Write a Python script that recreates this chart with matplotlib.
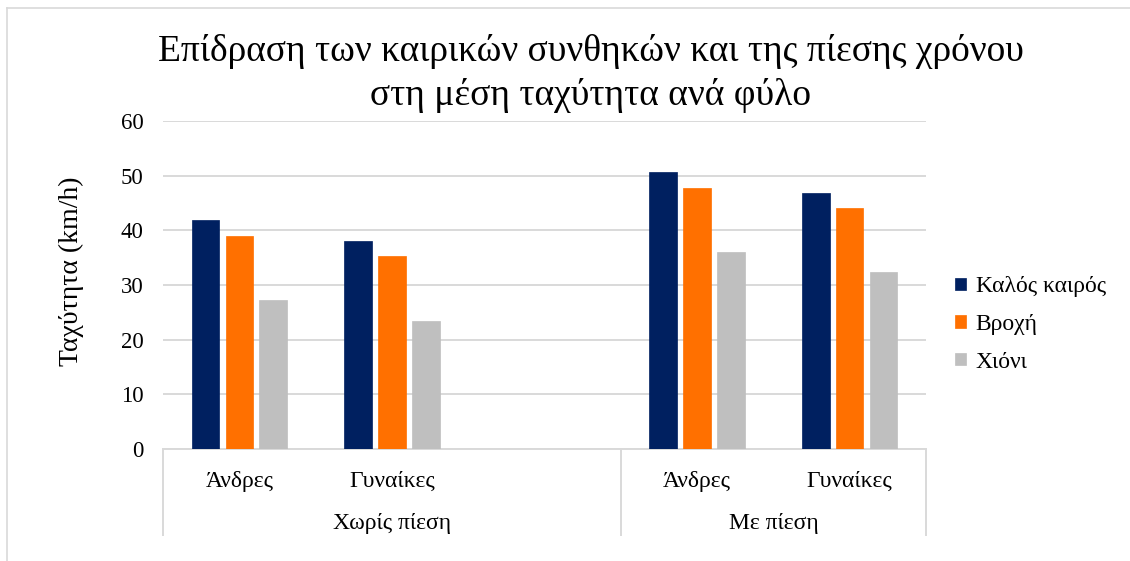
import numpy as np
import matplotlib
matplotlib.use("Agg")
import matplotlib.pyplot as plt
from matplotlib.lines import Line2D
import matplotlib.transforms as mtransforms

plt.rcParams['font.family'] = ['Liberation Serif', 'DejaVu Serif']

title = "Επίδραση των καιρικών συνθηκών και της πίεσης χρόνου\nστη μέση ταχύτητα ανά φύλο"
ylabel = "Ταχύτητα (km/h)"
sub_labels = ["Άνδρες", "Γυναίκες", "", "Άνδρες", "Γυναίκες"]
groups = ["Χωρίς πίεση", "Με πίεση"]
group_sizes = [3, 2]
series_names = ["Καλός καιρός", "Βροχή", "Χιόνι"]
kalos = [41.8, 38.1, np.nan, 50.7, 46.9]
vroxi = [38.9, 35.3, np.nan, 47.8, 44.1]
xioni = [27.2, 23.4, np.nan, 36.1, 32.3]
colors = ["#002060", "#FF7000", "#BFBFBF"]
yticks = [0, 10, 20, 30, 40, 50, 60]

W, H = 1130, 561
fig = plt.figure(figsize=(W / 100, H / 100), dpi=100)
ax_l, ax_r, ax_b, ax_t = 163, 926, 449, 121
ax = fig.add_axes([ax_l / W, 1 - ax_b / H, (ax_r - ax_l) / W, (ax_b - ax_t) / H])

x = np.arange(len(sub_labels))
width = 0.18
step = 0.222
series = [kalos, vroxi, xioni]
for i, (vals, c, name) in enumerate(zip(series, colors, series_names)):
    vals = np.array(vals, dtype=float)
    m = ~np.isnan(vals)
    ax.bar(x[m] + (i - 1) * step, vals[m], width=width, color=c, label=name,
           edgecolor=c, linewidth=0.5, zorder=3)

ax.set_xlim(-0.5, len(sub_labels) - 0.5)
ax.set_ylim(0, 60)
ax.set_yticks(yticks)
ax.set_yticklabels([str(t) for t in yticks], fontsize=16.5)
ax.tick_params(axis='y', length=0, pad=14)
ax.set_xticks([])
ax.grid(axis='y', color='#D9D9D9', linewidth=1.4, zorder=0)
for s in ['top', 'right', 'left']:
    ax.spines[s].set_visible(False)
ax.spines['bottom'].set_color('#D9D9D9')
ax.spines['bottom'].set_linewidth(1.4)

# two-level category axis
trans = mtransforms.blended_transform_factory(ax.transData, ax.transAxes)
axh = ax_b - ax_t
sub_y = -(481 - ax_b) / axh
grp_y = -(523 - ax_b) / axh
line_bot = -(535 - ax_b) / axh
for xi, lab in zip(x, sub_labels):
    ax.text(xi, sub_y, lab, transform=trans, ha='center', va='center', fontsize=17)
start = -0.5
seps = [start]
for g, n in zip(groups, group_sizes):
    end = start + n
    ax.text((start + end) / 2, grp_y, g, transform=trans, ha='center', va='center', fontsize=17)
    seps.append(end)
    start = end
for s in seps:
    ax.add_line(Line2D([s, s], [0, line_bot], transform=trans, color='#D9D9D9',
                       linewidth=1.4, clip_on=False))

ax.set_ylabel(ylabel, fontsize=20)
ax.yaxis.set_label_coords(-(ax_l - 84) / (ax_r - ax_l), (ax_b - 271) / axh)

fig.suptitle(title, fontsize=27, y=1 - 34 / H, va='top', x=591 / W, linespacing=1.33)

leg = fig.legend(loc='upper left', bbox_to_anchor=(946 / W, 1 - 267 / H), frameon=False,
                 fontsize=17, handlelength=0.45, handleheight=0.45, handletextpad=0.4,
                 labelspacing=0.7, borderaxespad=0)

# outer chart border (top and left visible)
fig.add_artist(Line2D([7 / W, 7 / W], [0, 1 - 8 / H], transform=fig.transFigure,
                      color='#D9D9D9', linewidth=1.2))
fig.add_artist(Line2D([7 / W, 1], [1 - 8 / H, 1 - 8 / H], transform=fig.transFigure,
                      color='#D9D9D9', linewidth=1.2))

fig.savefig("out.png", dpi=100)
